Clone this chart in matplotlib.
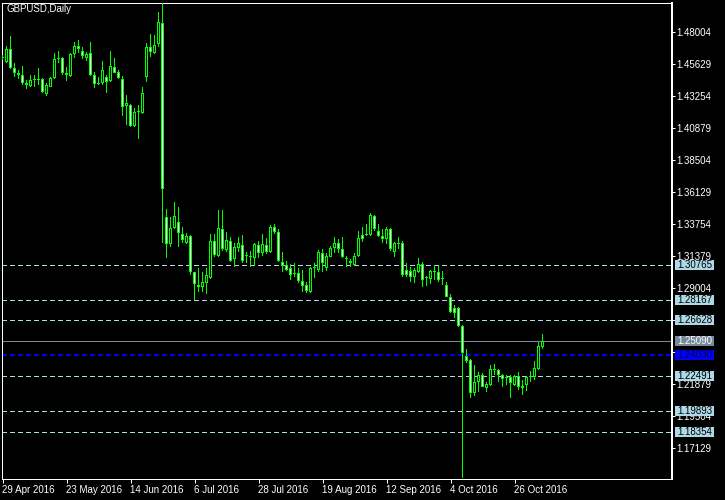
import matplotlib
matplotlib.use('Agg')
import matplotlib.pyplot as plt
import matplotlib.transforms as mtransforms
from matplotlib.patches import Rectangle
import numpy as np

plt.rcParams['font.family'] = ['Liberation Sans', 'DejaVu Sans']

# ---------------- data (GBPUSD daily, 29 Apr 2016 .. 4 Nov 2016) ----------------
opens = [
1.4612, 1.4582, 1.4674, 1.4533, 1.4495, 1.4484, 1.4413, 1.4402, 1.4444, 1.4447,
1.4452, 1.4343, 1.4397, 1.4459, 1.4600, 1.4608, 1.4501, 1.4476, 1.4639, 1.4699,
1.4664, 1.4608, 1.4645, 1.4484, 1.4424, 1.4427, 1.4467, 1.4441, 1.4541, 1.4504,
1.4452, 1.4254, 1.4261, 1.4105, 1.4211, 1.4204, 1.4467, 1.4689, 1.4649, 1.4711,
1.4867, 1.3428, 1.3230, 1.3346, 1.3391, 1.3302, 1.3239, 1.3289, 1.3020, 1.2925,
1.2908, 1.2943, 1.2975, 1.3254, 1.3141, 1.3339, 1.3185, 1.3254, 1.3116, 1.3198,
1.3222, 1.3144, 1.3135, 1.3124, 1.3222, 1.3161, 1.3222, 1.3173, 1.3354, 1.3321,
1.3098, 1.3074, 1.3049, 1.3007, 1.3012, 1.2955, 1.2925, 1.2876, 1.3048, 1.3037,
1.3165, 1.3049, 1.3135, 1.3198, 1.3239, 1.3190, 1.3116, 1.3086, 1.3074, 1.3141,
1.3296, 1.3296, 1.3296, 1.3437, 1.3328, 1.3289, 1.3264, 1.3339, 1.3173, 1.3226,
1.3239, 1.3033, 1.3029, 1.2987, 1.3024, 1.3083, 1.2975, 1.2970, 1.3024, 1.3022,
1.2971, 1.2925, 1.2840, 1.2753, 1.2753, 1.2621, 1.2399, 1.2369, 1.2126, 1.2208,
1.2258, 1.2159, 1.2183, 1.2295, 1.2295, 1.2258, 1.2235, 1.2245, 1.2183, 1.2250,
1.2159, 1.2183, 1.2245, 1.2245, 1.2300, 1.2468]

highs = [
1.4632, 1.4701, 1.4773, 1.4570, 1.4521, 1.4550, 1.4447, 1.4484, 1.4484, 1.4533,
1.4459, 1.4422, 1.4467, 1.4645, 1.4664, 1.4619, 1.4545, 1.4645, 1.4731, 1.4743,
1.4689, 1.4656, 1.4731, 1.4508, 1.4471, 1.4590, 1.4484, 1.4664, 1.4608, 1.4521,
1.4476, 1.4335, 1.4268, 1.4237, 1.4261, 1.4392, 1.4719, 1.4788, 1.4780, 1.4951,
1.5020, 1.3487, 1.3428, 1.3541, 1.3502, 1.3354, 1.3309, 1.3296, 1.3024, 1.3049,
1.3024, 1.3049, 1.3304, 1.3304, 1.3482, 1.3482, 1.3321, 1.3284, 1.3239, 1.3279,
1.3296, 1.3173, 1.3180, 1.3239, 1.3254, 1.3304, 1.3272, 1.3371, 1.3378, 1.3339,
1.3173, 1.3106, 1.3081, 1.3091, 1.3049, 1.3037, 1.2950, 1.3061, 1.3086, 1.3185,
1.3190, 1.3165, 1.3215, 1.3284, 1.3265, 1.3279, 1.3141, 1.3116, 1.3161, 1.3328,
1.3354, 1.3378, 1.3457, 1.3445, 1.3378, 1.3339, 1.3354, 1.3346, 1.3247, 1.3279,
1.3252, 1.3091, 1.3061, 1.3049, 1.3124, 1.3096, 1.2992, 1.3035, 1.3074, 1.3066,
1.3029, 1.2950, 1.2859, 1.2777, 1.2764, 1.2629, 1.2448, 1.2374, 1.2332, 1.2282,
1.2270, 1.2208, 1.2332, 1.2339, 1.2300, 1.2265, 1.2258, 1.2258, 1.2258, 1.2282,
1.2221, 1.2250, 1.2290, 1.2364, 1.2505, 1.2562]

lows = [
1.4595, 1.4576, 1.4526, 1.4467, 1.4452, 1.4409, 1.4378, 1.4392, 1.4397, 1.4409,
1.4352, 1.4328, 1.4392, 1.4452, 1.4570, 1.4484, 1.4441, 1.4467, 1.4608, 1.4645,
1.4600, 1.4590, 1.4476, 1.4385, 1.4409, 1.4409, 1.4352, 1.4434, 1.4496, 1.4452,
1.4179, 1.4113, 1.4096, 1.4096, 1.4007, 1.4194, 1.4434, 1.4615, 1.4639, 1.4694,
1.3235, 1.3124, 1.3205, 1.3339, 1.3205, 1.3239, 1.3230, 1.3000, 1.2814, 1.2876,
1.2876, 1.2859, 1.2968, 1.3131, 1.3131, 1.3180, 1.3173, 1.3098, 1.3061, 1.3173,
1.3091, 1.3091, 1.3057, 1.3066, 1.3124, 1.3141, 1.3155, 1.3165, 1.3304, 1.3098,
1.3024, 1.3031, 1.2963, 1.2987, 1.2938, 1.2876, 1.2864, 1.2868, 1.2975, 1.3024,
1.3024, 1.3031, 1.3131, 1.3161, 1.3161, 1.3124, 1.3061, 1.3061, 1.3066, 1.3135,
1.3247, 1.3289, 1.3289, 1.3328, 1.3279, 1.3239, 1.3230, 1.3180, 1.3135, 1.3190,
1.2987, 1.2987, 1.2950, 1.2943, 1.3017, 1.2913, 1.2918, 1.2933, 1.2963, 1.2950,
1.2925, 1.2834, 1.2720, 1.2678, 1.2612, 1.1491, 1.2344, 1.2089, 1.2102, 1.2134,
1.2166, 1.2134, 1.2176, 1.2258, 1.2208, 1.2171, 1.2183, 1.2085, 1.2176, 1.2146,
1.2109, 1.2141, 1.2208, 1.2221, 1.2295, 1.2448]

closes = [
1.4612, 1.4674, 1.4533, 1.4496, 1.4487, 1.4427, 1.4421, 1.4447, 1.4449, 1.4445,
1.4360, 1.4409, 1.4459, 1.4600, 1.4612, 1.4501, 1.4481, 1.4639, 1.4699, 1.4674,
1.4625, 1.4639, 1.4484, 1.4415, 1.4417, 1.4521, 1.4434, 1.4550, 1.4501, 1.4459,
1.4248, 1.4274, 1.4105, 1.4211, 1.4213, 1.4352, 1.4689, 1.4656, 1.4706, 1.4875,
1.3636, 1.3230, 1.3346, 1.3437, 1.3309, 1.3259, 1.3289, 1.3024, 1.2933, 1.2908,
1.2950, 1.3000, 1.3254, 1.3148, 1.3346, 1.3190, 1.3259, 1.3106, 1.3205, 1.3235,
1.3106, 1.3141, 1.3136, 1.3230, 1.3165, 1.3230, 1.3173, 1.3354, 1.3321, 1.3106,
1.3066, 1.3037, 1.3000, 1.3007, 1.2957, 1.2918, 1.2883, 1.3049, 1.3048, 1.3173,
1.3086, 1.3141, 1.3198, 1.3235, 1.3190, 1.3131, 1.3116, 1.3104, 1.3141, 1.3272,
1.3264, 1.3296, 1.3445, 1.3339, 1.3289, 1.3264, 1.3339, 1.3190, 1.3235, 1.3239,
1.2996, 1.3000, 1.2987, 1.3037, 1.3081, 1.2960, 1.2975, 1.3029, 1.3024, 1.2965,
1.2971, 1.2838, 1.2727, 1.2720, 1.2618, 1.2423, 1.2364, 1.2126, 1.2208, 1.2258,
1.2171, 1.2191, 1.2300, 1.2295, 1.2258, 1.2226, 1.2232, 1.2196, 1.2250, 1.2166,
1.2176, 1.2241, 1.2245, 1.2307, 1.2473, 1.2509]

date_labels = ['29 Apr 2016', '23 May 2016', '14 Jun 2016', '6 Jul 2016',
               '28 Jul 2016', '19 Aug 2016', '12 Sep 2016', '4 Oct 2016',
               '26 Oct 2016']
date_bar_index = [0, 16, 32, 48, 64, 80, 96, 112, 128]

price_ticks = [1.48004, 1.45629, 1.43254, 1.40879, 1.38504, 1.36129, 1.33754,
               1.31379, 1.29004, 1.26628, 1.24254, 1.21879, 1.19504, 1.17129]
hidden_ticks = [1.26628, 1.24254]   # fully covered by the price boxes

level_lines = [1.30765, 1.28167, 1.26628, 1.22491, 1.19893, 1.18354]
bid_level = 1.25090
blue_level = 1.24030

title = 'GBPUSD,Daily'

# ---------------- figure ----------------
W, H = 725, 500
fig = plt.figure(figsize=(W / 100, H / 100), dpi=100, facecolor='black')
ax_l, ax_r, ax_t, ax_b = 2, 672, 2.7, 479
ax = fig.add_axes([ax_l / W, 1 - ax_b / H, (ax_r - ax_l) / W, (ax_b - ax_t) / H],
                  facecolor='black')

bar_px = 4.0
xmin = -0.125
ax.set_xlim(xmin, xmin + (ax_r - ax_l) / bar_px)
ymin, ymax = 1.14859, 1.50201
ax.set_ylim(ymin, ymax)
ax.autoscale(False)
k = (ymax - ymin) / (ax_b - ax_t)   # price per pixel
u = 1.0 / bar_px                    # bar-axis units per pixel

LIME = '#00FF00'
px = 0.72  # one pixel in points

# level lines
for lv in level_lines:
    ax.axhline(lv, color='#ADD8E6', lw=px, dashes=(5, 3), antialiased=False, zorder=1)
ax.axhline(bid_level, color='#778899', lw=px, antialiased=False, zorder=1)
ax.axhline(blue_level, color='#0000FF', lw=2 * px, dashes=(2.5, 1.5),
           antialiased=False, zorder=1)

# candles
o = np.array(opens); h = np.array(highs); l = np.array(lows); c = np.array(closes)
x = np.arange(len(o))
# wicks (1 px wide)
ax.bar(x, h - l, bottom=l, width=u, color=LIME, edgecolor='none',
       antialiased=False, zorder=3)
# body outline (3 px wide)
top = np.maximum(o, c); bot = np.minimum(o, c)
body = np.maximum(top - bot, k)
ax.bar(x, body, bottom=bot, width=3 * u, color=LIME, edgecolor='none',
       antialiased=False, zorder=4)
# body interior (1 px wide): black for rising, white for falling
inner = (top - bot) > 2.2 * k
fill = np.where(c > o, 'black', 'white')
ax.bar(x[inner], (top - bot)[inner] - 2 * k, bottom=bot[inner] + k, width=u,
       color=list(fill[inner]), edgecolor='none', antialiased=False, zorder=5)

# axes styling
for s in ['left', 'top', 'bottom']:
    ax.spines[s].set_color('white')
    ax.spines[s].set_linewidth(px)
ax.spines['right'].set_color('white')
ax.spines['right'].set_linewidth(2 * px)

ax.yaxis.tick_right()
ax.set_yticks(price_ticks, ['' if v in hidden_ticks else f'{v:.5f}' for v in price_ticks])
ax.tick_params(axis='y', colors='white', length=3 * px, width=px, pad=1.2, labelsize=7)
ax.set_xticks(date_bar_index, date_labels)
for t in ax.get_xticklabels():
    t.set_horizontalalignment('left')
ax.tick_params(axis='x', colors='white', length=4 * px, width=px, pad=1.5, labelsize=7)

# price boxes on the right scale
trans = mtransforms.blended_transform_factory(fig.transFigure, ax.transData)
boxes = [(lv, '#ADD8E6', 'black') for lv in level_lines]
boxes += [(bid_level, '#778899', 'white'), (blue_level, '#0000FF', '#000033')]
for lv, fc, tc in boxes:
    fig.add_artist(Rectangle((675 / W, lv - 5 * k), 39 / W, 10 * k, transform=trans,
                             facecolor=fc, edgecolor='none', zorder=10))
    fig.text(677 / W, lv, f'{lv:.5f}', transform=trans, color=tc, fontsize=7,
             va='center', ha='left', zorder=11)

fig.text(6.5 / W, 1 - 3.5 / H, title, color='white', fontsize=7, va='top', ha='left')

fig.savefig('out.png', dpi=100, facecolor='black')
